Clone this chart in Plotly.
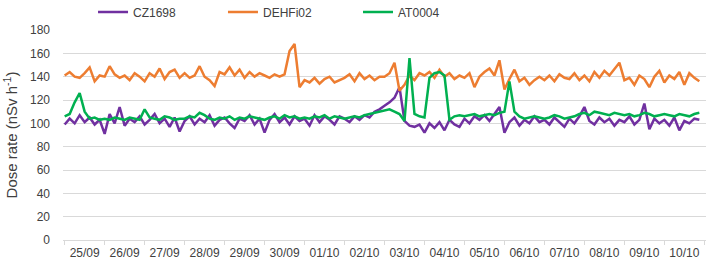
import pandas as pd
import plotly.graph_objects as go

# 3-hourly readings from 25/09 00:00 to 10/10 21:00 (8 per day)
start_time = "2019-09-25 00:00"
step = "3h"

cz1698 = [
    99, 104, 100, 107, 101, 105, 99, 103,
    91, 108, 100, 114, 98, 104, 101, 106,
    99, 103, 108, 100, 104, 97, 105, 93,
    102, 106, 99, 104, 101, 107, 98, 103,
    105, 100, 96, 104, 102, 107, 99, 104,
    92, 103, 108, 101, 105, 99, 106, 102,
    104, 98, 107, 101, 106, 103, 99, 106,
    104, 101, 106, 103, 107, 105, 110, 112,
    115, 118, 122, 131, 102, 98, 97, 99,
    92, 100, 96, 101, 94, 103, 99, 97,
    104, 100, 106, 103, 107, 102, 108, 114,
    92, 101, 105, 98, 103, 100, 106, 101,
    103, 99, 105, 101, 97, 104, 100, 106,
    114, 102, 99, 105, 101, 104, 98, 103,
    101, 106, 99, 103, 117, 95, 104, 100,
    103, 98, 105, 94, 102, 100, 104, 103,
]

dehfi02 = [
    141, 144, 140, 139, 143, 148, 136, 141,
    140, 149, 142, 139, 141, 137, 143, 140,
    136, 143, 140, 147, 138, 144, 146, 139,
    143, 139, 141, 149, 140, 137, 132, 144,
    142, 148, 141, 146, 139, 144, 140, 143,
    141, 139, 142, 140, 142, 162, 168, 131,
    137, 135, 139, 134, 138, 140, 135, 137,
    139, 142, 136, 143, 138, 141, 137, 140,
    140, 143, 152, 128, 133, 141, 137, 143,
    141, 144, 139, 146, 140, 143, 138, 141,
    139, 143, 131, 140, 144, 147, 141, 154,
    129, 138, 146, 136, 139, 133, 137, 140,
    137, 141, 136, 142, 139, 138, 143, 137,
    141, 136, 144, 139, 145, 141, 147, 152,
    137, 139, 133, 141, 138, 131, 140, 145,
    135, 141, 138, 144, 133, 143, 139, 136,
]

at0004 = [
    106, 108, 118, 126, 110, 104, 105, 103,
    104, 103, 105, 104, 103, 105, 104, 103,
    112, 105, 104, 103, 106, 105, 103, 104,
    104, 106, 105, 109, 107, 104, 103, 105,
    104, 106, 103, 105, 104, 106, 105, 104,
    103, 105, 106, 104, 107, 105, 106, 104,
    105, 104, 106, 105, 107, 104, 106, 105,
    104, 105, 106, 105, 107, 108, 109, 110,
    111, 112, 110, 108, 102, 156, 108, 106,
    105, 139, 143, 144, 141, 103, 106, 107,
    106, 107, 108, 106, 107, 108, 107, 109,
    110, 136, 110, 106, 104, 105, 106, 105,
    104, 105, 107, 106, 104, 105, 106, 108,
    109, 107, 110, 109, 108, 107, 109, 108,
    107, 108, 106, 107, 109, 108, 106, 107,
    108, 107, 106, 108, 107, 106, 108, 109,
]

series_names = ["CZ1698", "DEHFi02", "AT0004"]
series_colors = ["#7030a0", "#ed7d31", "#00b050"]
legend_ids = ["legend", "legend2", "legend3"]
legend_x = [0.0467, 0.2488, 0.4588]

times = pd.date_range(start_time, periods=len(cz1698), freq=step)

fig = go.Figure()
for name, vals, col, lg in zip(series_names, [cz1698, dehfi02, at0004], series_colors, legend_ids):
    fig.add_trace(go.Scatter(x=times, y=vals, mode="lines", name=name, legend=lg,
                             line=dict(color=col, width=2.5)))

font_family = "Liberation Sans, Arial, sans-serif"
legend_font = dict(size=12, color="#404040", family="Liberation Sans Narrow, Arial Narrow, Liberation Sans, sans-serif")
legend_common = dict(orientation="h", y=1.086, xanchor="left", yanchor="middle",
                     font=legend_font, bgcolor="rgba(0,0,0,0)")

fig.update_layout(
    width=711, height=263,
    margin=dict(l=63, r=5, t=30, b=23, autoexpand=False),
    paper_bgcolor="white", plot_bgcolor="white",
    font=dict(family=font_family, color="#404040", size=12),
    showlegend=True,
    legend=dict(x=legend_x[0], **legend_common),
    legend2=dict(x=legend_x[1], **legend_common),
    legend3=dict(x=legend_x[2], **legend_common),
    xaxis=dict(
        type="date",
        range=["2019-09-24 23:00", "2019-10-11 01:00"],
        dtick=86400000, tick0="2019-09-25",
        ticklabelmode="period", tickformat="%d/%m",
        showgrid=False, showline=True, linecolor="#d9d9d9", linewidth=1,
        ticks="outside", ticklen=4, tickcolor="#d9d9d9",
        ticklabelstandoff=-2,
        tickfont=dict(size=12, color="#404040"),
    ),
    yaxis=dict(
        range=[0, 180], dtick=20, tick0=0,
        showgrid=True, gridcolor="#d9d9d9", gridwidth=1,
        zeroline=False, showline=False, ticks="",
        ticklabelstandoff=12,
        tickfont=dict(size=12, color="#404040"),
        title=dict(text="Dose rate (nSv h<sup>-1</sup>)", font=dict(size=15, color="#404040"), standoff=8),
    ),
)

fig.write_html("out.html", post_script="document.body.style.margin='0';",
               config={"displayModeBar": False})
